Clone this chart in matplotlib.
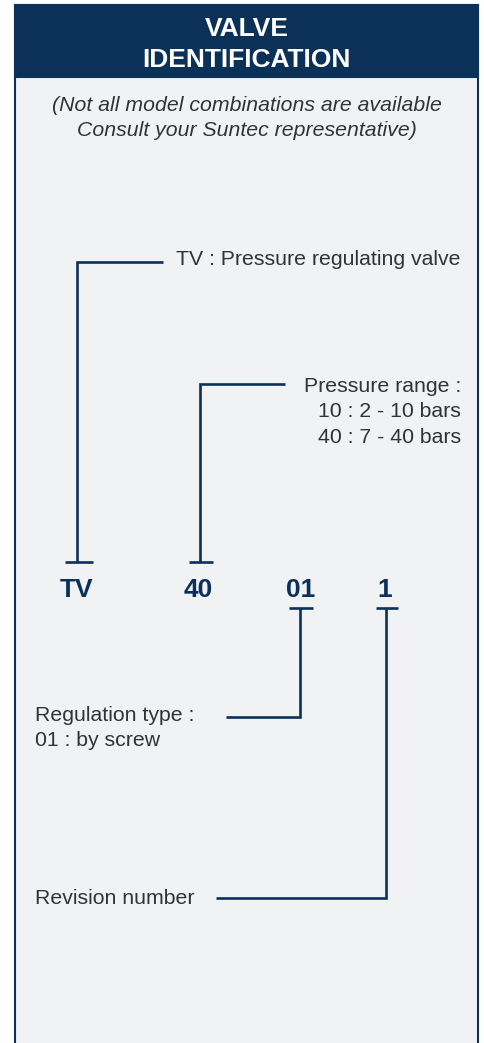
import matplotlib
matplotlib.use("Agg")
import matplotlib.pyplot as plt
from matplotlib.patches import Rectangle

# ---- content ----
title_lines = ["VALVE", "IDENTIFICATION"]
note_lines = ["(Not all model combinations are available",
              "Consult your Suntec representative)"]
codes = ["TV", "40", "01", "1"]
desc_tv = ["TV : Pressure regulating valve"]
desc_range = ["Pressure range :", "10 : 2 - 10 bars", "40 : 7 - 40 bars"]
desc_reg = ["Regulation type :", "01 : by screw"]
desc_rev = ["Revision number"]

NAVY = "#0b3159"
BG = "#f1f2f4"
TXT = "#333333"
FONT = "Liberation Sans"
FS = 15.3

W, H = 485, 1043
fig = plt.figure(figsize=(W / 100, H / 100), dpi=100)
fig.patch.set_facecolor("white")
ax = fig.add_axes([0, 0, 1, 1])
ax.set_xlim(0, W)
ax.set_ylim(H, 0)
ax.axis("off")

# box
left, right, top = 15, 478, 5
ax.add_patch(Rectangle((left, top), right - left, H - top + 5, facecolor=BG,
                       edgecolor=NAVY, linewidth=1.5, zorder=0))
ax.add_patch(Rectangle((left, top), right - left, 72, facecolor=NAVY,
                       edgecolor=NAVY, linewidth=1.5, zorder=1))
cx = (left + right) / 2
for txt, yb in zip(title_lines, [36, 67]):
    ax.text(cx, yb, txt, ha="center", va="baseline", color="white",
            fontsize=19, fontweight="bold", family=FONT, zorder=2)
for txt, yb in zip(note_lines, [111, 136]):
    ax.text(cx, yb, txt, ha="center", va="baseline", color=TXT,
            fontsize=FS, style="italic", family=FONT)

lw = 1.9
def line(xs, ys):
    ax.plot(xs, ys, color=NAVY, lw=lw, solid_capstyle="butt",
            solid_joinstyle="miter")

# codes
code_x = [77, 198, 301, 385]
for c, x in zip(codes, code_x):
    ax.text(x, 597, c, ha="center", va="baseline", color=NAVY,
            fontsize=19, fontweight="bold", family=FONT)

# TV connector
line([163, 77, 77], [262, 262, 562])
line([65, 93], [562, 562])
ax.text(461, 265, desc_tv[0], ha="right", va="baseline", color=TXT,
        fontsize=FS, family=FONT)

# pressure range connector
line([285, 200, 200], [384, 384, 562])
line([189, 213], [562, 562])
for txt, yb in zip(desc_range, [392, 417, 443]):
    ax.text(461, yb, txt, ha="right", va="baseline", color=TXT,
            fontsize=FS, family=FONT)

# regulation type connector
line([289, 313], [608, 608])
line([300, 300, 226], [608, 717, 717])
for txt, yb in zip(desc_reg, [721, 746]):
    ax.text(35, yb, txt, ha="left", va="baseline", color=TXT,
            fontsize=FS, family=FONT)

# revision connector
line([376, 398], [608, 608])
line([386, 386, 216], [608, 898, 898])
ax.text(35, 904, desc_rev[0], ha="left", va="baseline", color=TXT,
        fontsize=FS, family=FONT)

fig.savefig("out.png", dpi=100, facecolor="white")
